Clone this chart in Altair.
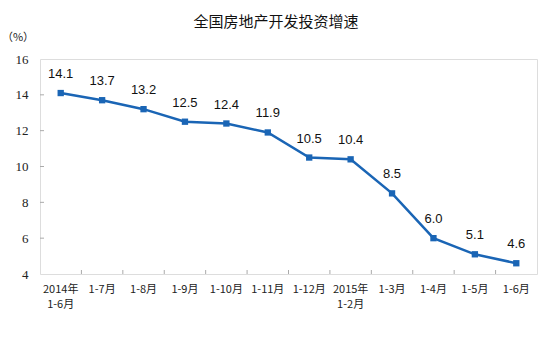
import altair as alt
import pandas as pd

categories = ["2014年\n1-6月", "1-7月", "1-8月", "1-9月", "1-10月", "1-11月",
              "1-12月", "2015年\n1-2月", "1-3月", "1-4月", "1-5月", "1-6月"]
values = [14.1, 13.7, 13.2, 12.5, 12.4, 11.9, 10.5, 10.4, 8.5, 6.0, 5.1, 4.6]
labels = ["14.1", "13.7", "13.2", "12.5", "12.4", "11.9", "10.5", "10.4", "8.5", "6.0", "5.1", "4.6"]
y_ticks = [4, 6, 8, 10, 12, 14, 16]
title_text = "全国房地产开发投资增速"
unit_text = "（%）"

df = pd.DataFrame({"cat": categories, "v": values, "lab": labels})
ytick_df = pd.DataFrame({"v": y_ticks[1:-1]})
xtick_df = pd.DataFrame({"cat": categories[1:]})

W, H = 497, 215
BLUE = "#1a65b5"

xscale = alt.Scale(domain=categories, paddingInner=0, paddingOuter=0)
yscale = alt.Scale(domain=[4, 16], nice=False, zero=False)

x_axis = alt.Axis(title=None, labelAngle=0, domain=False, ticks=False,
                  labelExpr="split(datum.label, '\\n')",
                  labelFont="Noto Sans CJK SC", labelFontSize=11,
                  labelColor="#222222", labelPadding=9,
                  labelLineHeight=15, labelBaseline="top",
                  labelFlush=False, labelOverlap=False)
y_axis = alt.Axis(title=None, values=y_ticks, domain=False, ticks=False,
                  grid=False, labelFont="Liberation Serif", labelFontSize=13,
                  labelColor="#222222", labelPadding=12,
                  labelFlush=False, labelOverlap=False)

x_enc = alt.X("cat:N", scale=xscale, sort=categories, axis=x_axis)
y_enc = alt.Y("v:Q", scale=yscale, axis=y_axis)

base = alt.Chart(df)
line = base.mark_line(color=BLUE, strokeWidth=2.5).encode(x=x_enc, y=y_enc)
pts = base.mark_square(color=BLUE, size=40, opacity=1).encode(x=x_enc, y=y_enc)
txt = base.mark_text(font="Liberation Sans", fontSize=13, dy=-19, color="#111111",
                     baseline="middle").encode(x=x_enc, y=y_enc, text="lab:N")

yticks = alt.Chart(ytick_df).mark_rule(color="#aaaaaa", strokeWidth=1).encode(
    x=alt.value(0), x2=alt.value(4), y=y_enc)
xticks = alt.Chart(xtick_df).mark_rule(color="#aaaaaa", strokeWidth=1).encode(
    x=alt.X("cat:N", scale=xscale, sort=categories, bandPosition=0, axis=x_axis),
    y=alt.value(H), y2=alt.value(H - 4))

unit = alt.Chart(pd.DataFrame({"u": [unit_text]})).mark_text(
    font="Noto Sans CJK SC", fontSize=11, color="#222222", align="center",
    baseline="middle").encode(x=alt.value(-22), y=alt.value(-21), text="u:N")

title = alt.Chart(pd.DataFrame({"u": [title_text]})).mark_text(
    font="Noto Sans CJK SC", fontSize=15, color="#111111", align="center",
    baseline="middle").encode(x=alt.value(236), y=alt.value(-37), text="u:N")

chart = alt.layer(line, pts, txt, yticks, xticks, unit, title).properties(
    width=W, height=H,
    autosize=alt.AutoSizeParams(type="none"),
    padding={"left": 40, "top": 59, "right": 17, "bottom": 77},
).configure_view(stroke="#b0b0b0", strokeWidth=1).configure(background="white")

chart.save("out.html", embed_options={"renderer": "svg", "actions": False})
